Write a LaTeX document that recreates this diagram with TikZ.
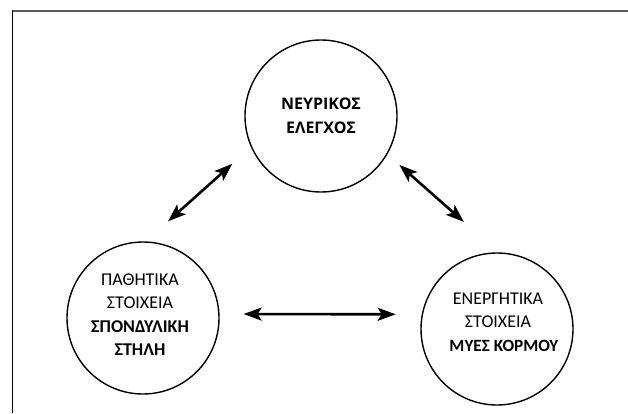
\documentclass[tikz,border=0pt]{standalone}
\usepackage{fontspec}
\newfontfamily\diagfont{Carlito}
\newfontfamily\headfont{Open Sans}
\usetikzlibrary{arrows.meta}
\tikzstyle{ring} = [circle, draw, line width=1.4pt, minimum size=152pt, inner sep=0pt]
\tikzstyle{lbl} = [align=center, font=\diagfont\fontsize{18}{23.5}\selectfont, inner sep=0pt]
\tikzstyle{headlbl} = [lbl, font=\headfont\bfseries\fontsize{16}{23.5}\selectfont]
\tikzstyle{link} = [{Stealth[length=18pt,width=13pt,inset=4pt]}-{Stealth[length=18pt,width=13pt,inset=4pt]},
    line width=2.6pt]

\begin{document}
\begin{tikzpicture}[x=1pt,y=1pt]
  \useasboundingbox (0,0) rectangle (628,413);
  % frame
  \draw[black!65, line width=1.6pt] (12,402) -- (628,402);
  \draw[line width=0.9pt] (12,402.8) -- (12,0);

  \node[ring, label={[headlbl]center:{ΝΕΥΡΙΚΟΣ\\ΕΛΕΓΧΟΣ}}] (N) at (321,297) {};
  \node[ring, label={[lbl,yshift=3.5pt,xshift=-3pt]center:{ΠΑΘΗΤΙΚΑ\\ΣΤΟΙΧΕΙΑ\\\textbf{ΣΠΟΝΔΥΛΙΚΗ}\\\textbf{ΣΤΗΛΗ}}}] (L) at (143,95) {};
  \node[ring, label={[lbl,yshift=7pt,xshift=1pt]center:{ΕΝΕΡΓΗΤΙΚΑ\\ΣΤΟΙΧΕΙΑ\\\hspace*{12pt}{\fontsize{17.2}{23.5}\selectfont\textbf{ΜΥΕΣ ΚΟΡΜΟΥ}}}}] (R) at (497,84) {};

  \draw[link, shorten <=30pt, shorten >=25pt] (L.88) -- (N.204);
  \draw[link, shorten <=16pt, shorten >=46pt] (N.330) -- (R.89);
  \draw[link, shorten <=24pt, shorten >=26pt] (L.3) -- (R.169);
\end{tikzpicture}
\end{document}
